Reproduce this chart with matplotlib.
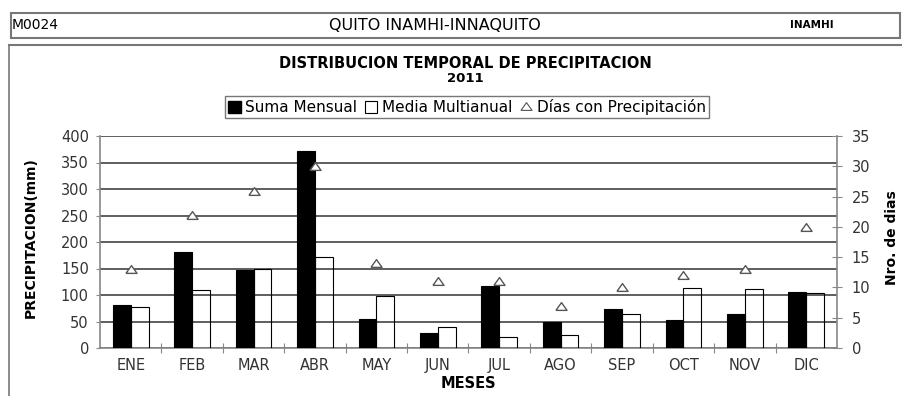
import numpy as np
import matplotlib.pyplot as plt
from matplotlib.patches import Rectangle
from matplotlib.lines import Line2D

plt.rcParams['font.family'] = ['DejaVu Sans']

# -- data --
meses = ['ENE', 'FEB', 'MAR', 'ABR', 'MAY', 'JUN',
         'JUL', 'AGO', 'SEP', 'OCT', 'NOV', 'DIC']
suma_mensual = [82, 182, 147, 371, 54, 28, 117, 49, 74, 53, 64, 106]
media_multianual = [78, 110, 149, 171, 99, 40, 21, 25, 65, 114, 112, 103]
dias_precip = [13, 22, 26, 30, 14, 11, 11, 7, 10, 12, 13, 20]

W, H = 903, 396
fig = plt.figure(figsize=(W / 100, H / 100), dpi=100)


def fx(x):
    return x / W


def fy(y):
    return 1 - y / H


# -- header boxes --
fig.patches.append(Rectangle((fx(11), fy(38)), fx(900) - fx(11), fy(13) - fy(38),
                             transform=fig.transFigure, fill=False,
                             edgecolor='#777777', lw=1.5))
fig.add_artist(Line2D([fx(9), 1], [fy(45), fy(45)], color='#777777', lw=1.5))
fig.add_artist(Line2D([fx(9), fx(9)], [fy(45), 0], color='#777777', lw=1.2))

fig.text(fx(12), fy(25), 'M0024', fontsize=10, ha='left', va='center')
fig.text(fx(435), fy(25), 'QUITO INAMHI-INNAQUITO', fontsize=11.5, ha='center', va='center')
fig.text(fx(812), fy(25), 'INAMHI', fontsize=7.5, fontweight='bold', ha='center', va='center')

fig.text(fx(465), fy(63), 'DISTRIBUCION TEMPORAL DE PRECIPITACION',
         fontsize=10.5, fontweight='bold', ha='center', va='center')
fig.text(fx(465), fy(78), '2011', fontsize=9.5, fontweight='bold', ha='center', va='center')

# -- main axes --
ax = fig.add_axes([fx(100), fy(348), fx(837) - fx(100), fy(136) - fy(348)])
x = np.arange(len(meses))
w = 0.29
ax.bar(x - w / 2, suma_mensual, w, color='black', edgecolor='black', lw=0.8, zorder=3)
ax.bar(x + w / 2, media_multianual, w, facecolor='none', edgecolor='black', lw=0.8, zorder=3)

ax.set_xlim(-0.5, len(meses) - 0.5)
ax.set_ylim(0, 400)
ax.set_yticks(range(0, 401, 50))
ax.yaxis.grid(True, color='#333333', lw=1.1)
ax.set_axisbelow(True)

ax.set_xticks(x[:-1] + 0.5)
ax.set_xticklabels([])
ax.set_xticks(x, meses, minor=True)
ax.tick_params(axis='x', which='major', direction='inout', length=7, color='#888888')
ax.tick_params(axis='x', which='minor', length=0, pad=7, labelsize=10.5, labelcolor='#333333')
ax.tick_params(axis='y', direction='out', length=3, color='#888888', pad=5,
               labelsize=10.5, labelcolor='#333333')

for s in ['top', 'right']:
    ax.spines[s].set_visible(False)
for s in ['left', 'bottom']:
    ax.spines[s].set_color('#888888')
    ax.spines[s].set_linewidth(1.2)

ax.set_xlabel('MESES', fontsize=10.5, fontweight='bold', labelpad=2)
ax.set_ylabel('PRECIPITACION(mm)', fontsize=10, fontweight='bold')
ax.yaxis.set_label_coords((38 - 100) / 737, 0.52)

# -- days on the right axis --
ax2 = ax.twinx()
ax2.set_ylim(0, 35)
ax2.set_yticks(range(0, 36, 5))
tri = [(-1, -0.7), (1, -0.7), (0, 0.7), (-1, -0.7)]
ax2.plot(x, dias_precip, linestyle='none', marker=tri, ms=8,
         mfc='white', mec='#555555', mew=1.0)
ax2.tick_params(axis='y', direction='inout', length=7, color='#888888', pad=7,
                labelsize=10.5, labelcolor='#333333')
for s in ['top', 'left', 'bottom']:
    ax2.spines[s].set_visible(False)
ax2.spines['right'].set_color('#888888')
ax2.spines['right'].set_linewidth(1.2)
ax2.set_ylabel('Nro. de dias', fontsize=10, fontweight='bold', rotation=90)
ax2.yaxis.set_label_coords((885 - 100) / 737, 0.52)

leg_tri = Line2D([], [], linestyle='none', marker=tri, ms=8, mfc='white', mec='#555555', mew=0.8)
leg_blk = Rectangle((0, 0), 1, 1, facecolor='black', edgecolor='black')
leg_wht = Rectangle((0, 0), 1, 1, facecolor='white', edgecolor='black', lw=0.8)
fig.legend([leg_blk, leg_wht, leg_tri],
           ['Suma Mensual', 'Media Multianual', 'Días con Precipitación'],
           loc='center', bbox_to_anchor=(fx(467), fy(107)), ncol=3, fontsize=11,
           frameon=True, fancybox=False, edgecolor='#777777', framealpha=1,
           handlelength=0.8, handleheight=0.8, handletextpad=0.3, columnspacing=0.5,
           borderpad=0.2, borderaxespad=0)

fig.savefig('out.png', dpi=100)
